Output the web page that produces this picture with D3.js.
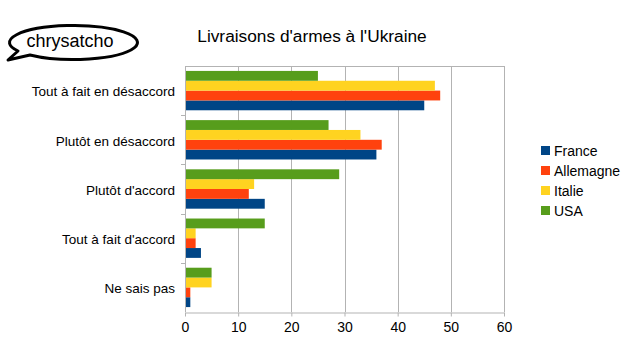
<!DOCTYPE html>
<html lang="fr">
<head>
<meta charset="utf-8">
<script src="https://cdn.jsdelivr.net/npm/d3@7"></script>
<style>
  body { margin: 0; background: white; font-family: "Liberation Sans", Arial, sans-serif; }
  .grid line { stroke: #b3b3b3; }
  .axis path, .axis line { stroke: #b3b3b3; }
  .axis text { fill: black; font-size: 13.5px; }
  .xaxis text { font-size: 14px; }
</style>
</head>
<body>
<svg id="chart" width="631" height="362"></svg>
<script>
// data
var categories = ["Tout à fait en désaccord", "Plutôt en désaccord", "Plutôt d'accord", "Tout à fait d'accord", "Ne sais pas"]
var seriesNames = ["France", "Allemagne", "Italie", "USA"]
var colors = ["#004586", "#ff420e", "#ffd320", "#579d1c"]
var france    = [45, 36, 15, 3, 1]
var allemagne = [48, 37, 12, 2, 1]
var italie    = [47, 33, 13, 2, 5]
var usa       = [25, 27, 29, 15, 5]
var xTicks = [0, 10, 20, 30, 40, 50, 60]

var values = [france, allemagne, italie, usa]

var svg = d3.select("#chart")

var plotLeft = 185, plotRight = 504, plotTop = 66, plotBottom = 312

var x = d3.scaleLinear().domain([0, 60]).range([plotLeft, plotRight])
var y = d3.scaleBand().domain(categories).range([plotTop, plotBottom]).paddingInner(0.2).paddingOuter(0.1)
// draw order inside a band: USA on top, France at bottom
var inner = d3.scaleBand().domain([3, 2, 1, 0]).range([0, y.bandwidth()])

// grid
svg.append("g").attr("class", "grid")
  .selectAll("line").data(xTicks).enter().append("line")
  .attr("x1", function(d){ return Math.round(x(d)) + 0.5 }).attr("x2", function(d){ return Math.round(x(d)) + 0.5 })
  .attr("y1", plotTop).attr("y2", plotBottom)

svg.append("line").attr("x1", plotLeft).attr("x2", plotRight).attr("y1", plotTop + 0.5).attr("y2", plotTop + 0.5)
  .attr("stroke", "#b3b3b3")

// bars
seriesNames.forEach(function(name, s){
  svg.append("g").selectAll("rect").data(values[s]).enter().append("rect")
    .attr("x", x(0))
    .attr("y", function(d, i){ return y(categories[i]) + inner(s) })
    .attr("width", function(d){ return x(d) - x(0) })
    .attr("height", inner.bandwidth())
    .attr("fill", colors[s])
})

// x axis
svg.append("g").attr("class", "axis xaxis")
  .attr("transform", "translate(0," + (plotBottom + 0.5) + ")")
  .call(d3.axisBottom(x).tickValues(xTicks).tickSize(4).tickPadding(6).tickSizeOuter(0))

// y axis
var yEdges = d3.scaleLinear().domain([0, 5]).range([plotTop, plotBottom])
var yAxis = svg.append("g").attr("class", "axis")
yAxis.append("line").attr("x1", plotLeft + 0.5).attr("x2", plotLeft + 0.5).attr("y1", plotTop).attr("y2", plotBottom)
yAxis.selectAll(".tk").data([1, 2, 3, 4]).enter().append("line")
  .attr("x1", plotLeft - 4).attr("x2", plotLeft)
  .attr("y1", function(d){ return Math.round(yEdges(d)) + 0.5 })
  .attr("y2", function(d){ return Math.round(yEdges(d)) + 0.5 })
yAxis.selectAll("text").data(categories).enter().append("text")
  .attr("x", 175)
  .attr("y", function(d){ return y(d) + y.bandwidth() / 2 + 1 })
  .attr("dy", "0.35em")
  .attr("text-anchor", "end")
  .text(function(d){ return d })

// title
svg.append("text").attr("x", 312).attr("y", 42).attr("text-anchor", "middle")
  .style("font-size", "17.3px").text("Livraisons d'armes à l'Ukraine")

// legend
var legend = svg.append("g").selectAll("g").data(seriesNames).enter().append("g")
  .attr("transform", function(d, i){ return "translate(541," + (146 + i * 20) + ")" })
legend.append("rect").attr("width", 9).attr("height", 9).attr("fill", function(d, i){ return colors[i] })
legend.append("text").attr("x", 13).attr("y", 10).style("font-size", "14px").text(function(d){ return d })

// speech bubble
svg.append("path")
  .attr("d", "M 18 51 A 64 17 0 1 1 30 55 L 8 60 Z")
  .attr("fill", "white").attr("stroke", "black").attr("stroke-width", 3).attr("stroke-linejoin", "round")
svg.append("text").attr("x", 70).attr("y", 47).attr("text-anchor", "middle")
  .style("font-size", "18px").text("chrysatcho")
</script>
</body>
</html>
